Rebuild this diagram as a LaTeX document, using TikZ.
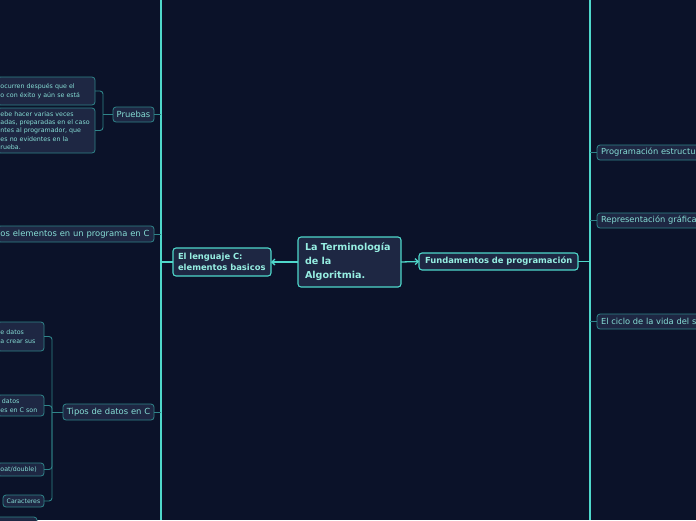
\documentclass[tikz,border=0pt]{standalone}
\usepackage{fontspec}
\setmainfont{DejaVu Sans}
\usetikzlibrary{arrows.meta}
\definecolor{bg}{HTML}{0B1229}
\definecolor{nodefill}{HTML}{1E2743}
\definecolor{bright}{HTML}{4FD8CB}
\definecolor{dimline}{HTML}{2F8489}
\definecolor{txtmain}{HTML}{96EEE2}
\definecolor{txtsub}{HTML}{86DDD5}
\begin{document}
\begin{tikzpicture}[x=1pt,y=-1pt,
  box/.style={rounded corners=3pt, fill=nodefill, outer sep=0pt, inner ysep=1pt, align=left},
  brightbox/.style={box, draw=bright, line width=1.1pt, text=txtmain},
  dimbox/.style={box, draw=dimline, line width=0.8pt, text=txtsub},
  spine/.style={draw=bright, line width=1.7pt},
  mainlink/.style={draw=bright, line width=1.3pt},
  sublink/.style={draw=dimline, line width=0.9pt},
  bracket/.style={draw=dimline, line width=0.9pt, rounded corners=3pt},
  tip/.style={-{Straight Barb[length=3pt,width=6pt]}}
]
\fill[bg] (0,0) rectangle (696,520);
\useasboundingbox (0,0) rectangle (696,520);

% spines
\coordinate (LT) at (161,0);
\coordinate (LB) at (161,520);
\coordinate (RT) at (590,0);
\coordinate (RB) at (590,520);
\draw[spine] (LT) -- (LB);
\draw[spine] (RT) -- (RB);

% main nodes
\node[brightbox, anchor=north west, minimum width=103pt, minimum height=50pt,
  text width=89pt, inner xsep=7pt, font=\bfseries\fontsize{9.6}{14}\selectfont]
  (center) at (298,237) {La Terminología\\de la\\Algoritmia.};
\node[brightbox, anchor=north west, minimum width=98pt, minimum height=28pt,
  text width=92pt, inner xsep=3pt, font=\bfseries\fontsize{8.4}{10.5}\selectfont]
  (lang) at (173,248) {\hspace{2pt}El lenguaje C:\\\hspace{2pt}elementos basicos};
\node[brightbox, anchor=north west, minimum width=159pt, minimum height=17pt,
  text width=151pt, inner xsep=4pt, font=\bfseries\fontsize{8.4}{10}\selectfont]
  (fund) at (419,253) {\hspace{2pt}Fundamentos de programación};

\draw[mainlink, tip] (center.west) -- (lang.east);
\draw[mainlink, tip] (center.east) -- (fund.west);
\coordinate (LJ) at (161,262);
\coordinate (RJ) at (590,261.5);
\draw[mainlink] (lang.west) -- (LJ);
\draw[mainlink] (fund.east) -- (RJ);

% left children
\node[dimbox, anchor=north west, minimum width=41pt, minimum height=15pt,
  text width=35pt, inner xsep=3pt, align=center, font=\fontsize{8.4}{10}\selectfont]
  (pruebas) at (113,107) {Pruebas};
\node[dimbox, anchor=north east, minimum height=16pt, text width=150.5pt, inner xsep=3pt,
  font=\fontsize{8.4}{10}\selectfont]
  (elem) at (154,226) {os elementos en un programa en C};
\node[dimbox, anchor=north west, minimum width=91pt, minimum height=16pt,
  text width=87pt, inner xsep=2pt, align=center, font=\fontsize{8.4}{10}\selectfont]
  (tipos) at (63,404) {Tipos de datos en C};

\coordinate (S1) at (161,114.5);
\coordinate (S2) at (161,234);
\coordinate (S3) at (161,412);
\draw[sublink] (S1) -- (pruebas.east);
\draw[sublink] (S2) -- (elem.east);
\draw[sublink] (S3) -- (tipos.east);

% Pruebas children
\node[dimbox, anchor=north east, minimum height=28pt, text width=91.5pt, inner xsep=3pt,
  font=\fontsize{6.3}{8.4}\selectfont]
  (p1) at (95,77) {ocurren después que el\\o con éxito y aún se está};
\node[dimbox, anchor=north east, minimum height=45pt, text width=91.5pt, inner xsep=3pt,
  font=\fontsize{6.3}{8.3}\selectfont]
  (p2) at (95,108) {ebe hacer varias veces\\adas, preparadas en el caso\\ntes al programador, que\\es no evidentes en la\\rueba.};
\coordinate (PB) at (103,114.5);
\draw[sublink] (pruebas.west) -- (PB);
\draw[bracket] (PB) |- (p1.east);
\draw[bracket] (PB) |- (p2.east);

% Tipos children
\node[dimbox, anchor=north east, minimum height=29pt, text width=40.5pt, inner xsep=3pt,
  font=\fontsize{6.3}{8.4}\selectfont]
  (t1) at (44,322) {e datos\\a crear sus};
\node[dimbox, anchor=north east, minimum height=21pt, text width=40.5pt, inner xsep=3pt,
  font=\fontsize{6.3}{8.4}\selectfont]
  (t2) at (44,395) {\hspace{1.5pt}datos\\es en C son};
\node[dimbox, anchor=north east, minimum height=13pt, text width=40.5pt, inner xsep=3pt,
  font=\fontsize{6.3}{8.4}\selectfont]
  (t3) at (44,463) {oat/double)};
\node[dimbox, anchor=north west, minimum width=41pt, minimum height=12pt,
  text width=39pt, inner xsep=1pt, align=center, font=\fontsize{6.2}{8.2}\selectfont]
  (car) at (3,495) {Caracteres};
\node[dimbox, anchor=north west, minimum width=42pt, minimum height=20pt]
  (t5) at (-5,517) {};
\coordinate (TB) at (52,412);
\draw[sublink] (tipos.west) -- (TB);
\draw[bracket] (TB) |- (t1.east);
\draw[bracket] (TB) |- (t2.east);
\draw[bracket] (TB) |- (t3.east);
\draw[bracket] (TB) |- (car.east);

% right children
\node[dimbox, anchor=north west, minimum width=130pt, minimum height=15pt,
  text width=126pt, inner xsep=2pt, font=\fontsize{8.3}{10}\selectfont]
  (prog) at (597,145) {\hspace{2pt}Programación estructu};
\node[dimbox, anchor=north west, minimum width=130pt, minimum height=15pt,
  text width=126pt, inner xsep=2pt, font=\fontsize{8.3}{10}\selectfont]
  (repr) at (597,213) {\hspace{2pt}Representación gráfica};
\node[dimbox, anchor=north west, minimum width=130pt, minimum height=15pt,
  text width=126pt, inner xsep=2pt, font=\fontsize{8.3}{10}\selectfont]
  (ciclo) at (597,314) {\hspace{2pt}El ciclo de la vida del s};
\coordinate (R1) at (590,152.5);
\coordinate (R2) at (590,220.5);
\coordinate (R3) at (590,321.5);
\draw[sublink] (R1) -- (prog.west);
\draw[sublink] (R2) -- (repr.west);
\draw[sublink] (R3) -- (ciclo.west);
\end{tikzpicture}
\end{document}
